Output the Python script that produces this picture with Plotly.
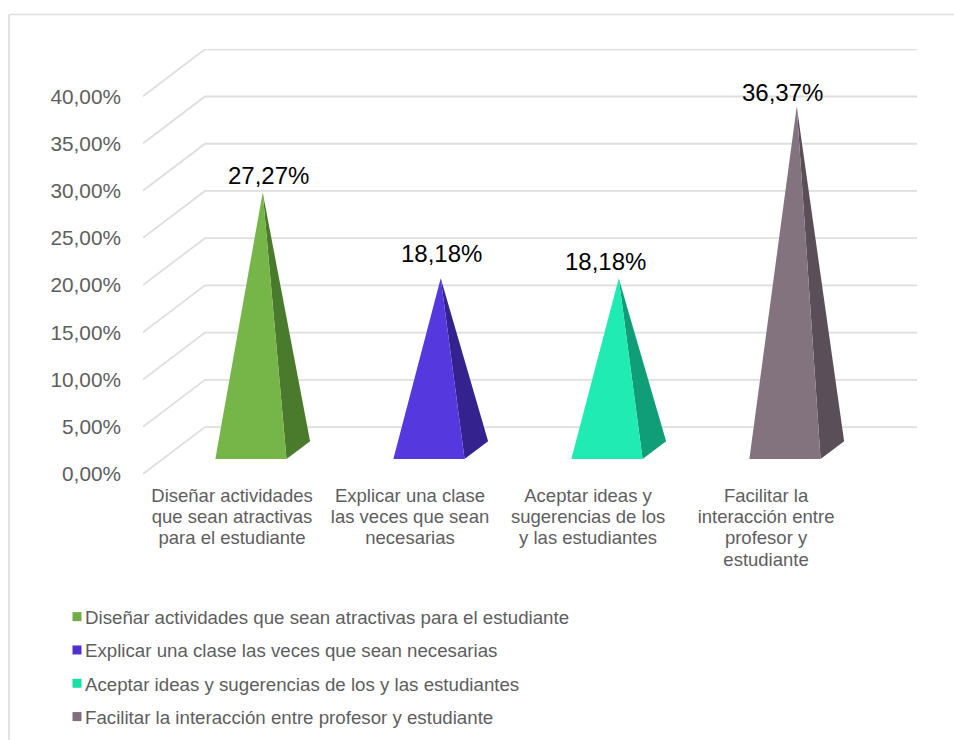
import plotly.graph_objects as go

categories = ["Diseñar actividades que sean atractivas para el estudiante",
              "Explicar una clase las veces que sean necesarias",
              "Aceptar ideas y sugerencias de los y las estudiantes",
              "Facilitar la interacción entre profesor y estudiante"]
tick_lines = [["Diseñar actividades", "que sean atractivas", "para el estudiante"],
              ["Explicar una clase", "las veces que sean", "necesarias"],
              ["Aceptar ideas y", "sugerencias de los", "y las estudiantes"],
              ["Facilitar la", "interacción entre", "profesor y", "estudiante"]]
values = [27.27, 18.18, 18.18, 36.37]
value_labels = ["27,27%", "18,18%", "18,18%", "36,37%"]
y_ticks = [0, 5, 10, 15, 20, 25, 30, 35, 40]
y_tick_labels = ["0,00%", "5,00%", "10,00%", "15,00%", "20,00%", "25,00%", "30,00%", "35,00%", "40,00%"]

front_colors = ["#76B547", "#5538DE", "#1FEBB3", "#83737F"]
side_colors = ["#4A7A2C", "#34228F", "#0F9E78", "#5A4E58"]
legend_colors = ["#70AD47", "#4F2FD0", "#18DFA8", "#7F6E7D"]
label_offsets = [(6, 17), (1, 25), (-13, 17), (-14, 14)]
tick_positions = [0, 1, 2, 3]

W, H = 954, 740
L, R, T, B = 143, 37, 49, 266
DX, DY = 0.348, 4.97          # wall depth in axis units
HALF = 0.2                    # half width of a pyramid's base
SHIFT = -0.005                # small sideways nudge of the pyramids
D0, D1 = 0.32, 0.70           # front / back of the base, as a share of the depth
XMIN = -0.5
XMAX = 3.5 + DX

tick_labels = ['<span style="font-size:18.5px">' + "<br>".join(ls) + "</span>" for ls in tick_lines]

fig = go.Figure()

# back wall gridlines
gx, gy = [], []
for t in y_ticks:
    gx += [XMIN, XMIN + DX, XMAX, None]
    gy += [t, t + DY, t + DY, None]
fig.add_trace(go.Scatter(x=gx, y=gy, mode="lines", line=dict(color="#DEDEDE", width=1.8),
                         showlegend=False, hoverinfo="skip"))

dmid = (D0 + D1) / 2
for i, (name, v) in enumerate(zip(categories, values)):
    c = i + SHIFT
    fl = (c - HALF + D0 * DX, D0 * DY)
    fr = (c + HALF + D0 * DX, D0 * DY)
    br = (c + HALF + D1 * DX, D1 * DY)
    apex = (c + dmid * DX, v + dmid * DY)
    fig.add_trace(go.Scatter(x=[fr[0], br[0], apex[0], fr[0]], y=[fr[1], br[1], apex[1], fr[1]],
                             mode="lines", fill="toself", fillcolor=side_colors[i],
                             line=dict(width=0), legendgroup=name, showlegend=False, hoverinfo="skip"))
    fig.add_trace(go.Scatter(x=[fl[0], fr[0], apex[0], fl[0]], y=[fl[1], fr[1], apex[1], fl[1]],
                             mode="lines", fill="toself", fillcolor=front_colors[i],
                             line=dict(width=0), legendgroup=name, showlegend=False,
                             name=name, hovertemplate=name + ": " + value_labels[i] + "<extra></extra>"))
    fig.add_trace(go.Scatter(x=[None], y=[None], mode="markers", name=name, legendgroup=name,
                             marker=dict(symbol="square", size=9, color=legend_colors[i])))
    fig.add_annotation(x=apex[0], y=apex[1], text=value_labels[i], showarrow=False,
                       xshift=label_offsets[i][0], yshift=label_offsets[i][1],
                       font=dict(size=24, color="#000000"))

def px(x):
    return (x - L) / (W - L - R)

def py(y):
    return (H - B - y) / (H - T - B)

line = dict(color="#DEDEDE", width=1.6)
fig.add_shape(type="line", xref="paper", yref="paper", x0=px(9), x1=px(954), y0=py(14.5), y1=py(14.5), line=line)
fig.add_shape(type="line", xref="paper", yref="paper", x0=px(9), x1=px(9), y0=py(14.5), y1=py(740), line=line)

fig.update_layout(
    width=W, height=H, margin=dict(l=L, r=R, t=T, b=B, autoexpand=False),
    paper_bgcolor="#FFFFFF", plot_bgcolor="#FFFFFF",
    font=dict(family="Liberation Sans, Arial, sans-serif", color="#5E5E5E"),
    xaxis=dict(range=[XMIN, XMAX], tickvals=tick_positions, ticktext=tick_labels, tickangle=0,
               showgrid=False, zeroline=False, showline=False, ticks="", ticklabelstandoff=10,
               tickfont=dict(size=16.5, color="#5E5E5E")),
    yaxis=dict(range=[0, 45], tickvals=y_ticks, ticktext=y_tick_labels,
               showgrid=False, zeroline=False, showline=False, ticks="", ticklabelstandoff=21,
               tickfont=dict(size=20.8, color="#5E5E5E")),
    legend=dict(x=px(45), y=py(598), xanchor="left", yanchor="top", orientation="v",
                traceorder="grouped", tracegroupgap=6, bgcolor="rgba(0,0,0,0)",
                font=dict(size=18.7, color="#5E5E5E")),
)

post = """
document.body.style.margin = '0';
document.querySelectorAll('.legendsymbols').forEach(function (s) {
  s.setAttribute('transform', 'translate(12,0)');
});
"""
fig.write_html("out.html", post_script=post, config={"displayModeBar": False})
